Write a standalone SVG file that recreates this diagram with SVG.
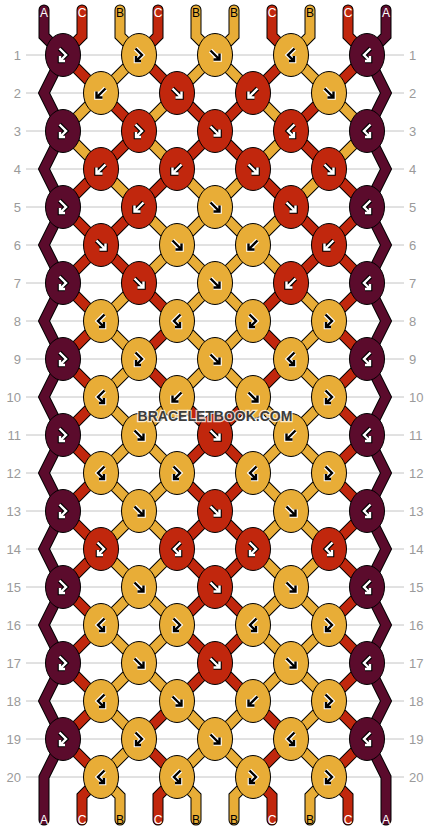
<svg xmlns="http://www.w3.org/2000/svg" xmlns:xlink="http://www.w3.org/1999/xlink" width="430" height="832" viewBox="0 0 430 832">
<style>
.grid line{stroke:#c4c4c4;stroke-width:1}
.lbl text{font-family:"Liberation Sans",Arial,sans-serif;font-size:13px;fill:#9a9a9a}
.lbl .l{text-anchor:end}
.so{fill:none;stroke:#000;stroke-width:11;stroke-linejoin:miter;stroke-linecap:round}
.si{fill:none;stroke-width:9;stroke-linejoin:miter;stroke-linecap:round}
.cA{stroke:#5b0b2c}.cB{stroke:#e8ad37}.cC{stroke:#c1270d}
.ends text{font-family:"Liberation Sans",Arial,sans-serif;font-size:12px;text-anchor:middle}
.tw{fill:#fff}.tk{fill:#000}
ellipse{stroke:#000;stroke-width:1}
.kd{fill:#5b0b2c}.kr{fill:#c1270d}.ky{fill:#e8ad37}
.ob{fill:none;stroke:#000;stroke-width:4.6}
.ow{fill:none;stroke:#fff;stroke-width:4.6}
.iw{fill:none;stroke:#fff;stroke-width:2.4}
.ik{fill:none;stroke:#000;stroke-width:2.4}
.wm{font-family:"Liberation Sans",Arial,sans-serif;font-size:14px;font-weight:bold;fill:#3c3c3c;stroke:#ffffff;stroke-opacity:0.75;stroke-width:2.5;paint-order:stroke;text-anchor:middle}
</style>
<defs>
<path id="pf" d="M-4.5,-4.5 L4.5,4.5 M4.5,-1.5 L4.5,4.5 L-1.5,4.5"/>
<path id="pb" d="M4.5,-4.5 L-4.5,4.5 M-4.5,-1.5 L-4.5,4.5 L1.5,4.5"/>
<path id="pfb" d="M-3.5,-6.5 L3,0 L-3,6 M-3,1 L-3,6 L2,6"/>
<path id="pbf" d="M3.5,-6.5 L-3,0 L3,6 M3,1 L3,6 L-2,6"/>
<g id="fW"><use href="#pf" class="ob"/><use href="#pf" class="iw"/></g>
<g id="fK"><use href="#pf" class="ow"/><use href="#pf" class="ik"/></g>
<g id="bW"><use href="#pb" class="ob"/><use href="#pb" class="iw"/></g>
<g id="bK"><use href="#pb" class="ow"/><use href="#pb" class="ik"/></g>
<g id="fbW"><use href="#pfb" class="ob"/><use href="#pfb" class="iw"/></g>
<g id="fbK"><use href="#pfb" class="ow"/><use href="#pfb" class="ik"/></g>
<g id="bfW"><use href="#pbf" class="ob"/><use href="#pbf" class="iw"/></g>
<g id="bfK"><use href="#pbf" class="ow"/><use href="#pbf" class="ik"/></g>
</defs>
<rect width="430" height="832" fill="#fff"/>
<g id="grid" class="grid">
<line x1="26" y1="55" x2="404" y2="55"/><line x1="26" y1="93" x2="404" y2="93"/><line x1="26" y1="131" x2="404" y2="131"/><line x1="26" y1="169" x2="404" y2="169"/><line x1="26" y1="207" x2="404" y2="207"/><line x1="26" y1="245" x2="404" y2="245"/><line x1="26" y1="283" x2="404" y2="283"/><line x1="26" y1="321" x2="404" y2="321"/><line x1="26" y1="359" x2="404" y2="359"/><line x1="26" y1="397" x2="404" y2="397"/><line x1="26" y1="435" x2="404" y2="435"/><line x1="26" y1="473" x2="404" y2="473"/><line x1="26" y1="511" x2="404" y2="511"/><line x1="26" y1="549" x2="404" y2="549"/><line x1="26" y1="587" x2="404" y2="587"/><line x1="26" y1="625" x2="404" y2="625"/><line x1="26" y1="663" x2="404" y2="663"/><line x1="26" y1="701" x2="404" y2="701"/><line x1="26" y1="739" x2="404" y2="739"/><line x1="26" y1="777" x2="404" y2="777"/>
</g>
<g id="rowlabels" class="lbl">
<text class="l" x="21" y="59.5">1</text><text class="l" x="21" y="97.5">2</text><text class="l" x="21" y="135.5">3</text><text class="l" x="21" y="173.5">4</text><text class="l" x="21" y="211.5">5</text><text class="l" x="21" y="249.5">6</text><text class="l" x="21" y="287.5">7</text><text class="l" x="21" y="325.5">8</text><text class="l" x="21" y="363.5">9</text><text class="l" x="21" y="401.5">10</text><text class="l" x="21" y="439.5">11</text><text class="l" x="21" y="477.5">12</text><text class="l" x="21" y="515.5">13</text><text class="l" x="21" y="553.5">14</text><text class="l" x="21" y="591.5">15</text><text class="l" x="21" y="629.5">16</text><text class="l" x="21" y="667.5">17</text><text class="l" x="21" y="705.5">18</text><text class="l" x="21" y="743.5">19</text><text class="l" x="21" y="781.5">20</text>
<text x="409" y="59.5">1</text><text x="409" y="97.5">2</text><text x="409" y="135.5">3</text><text x="409" y="173.5">4</text><text x="409" y="211.5">5</text><text x="409" y="249.5">6</text><text x="409" y="287.5">7</text><text x="409" y="325.5">8</text><text x="409" y="363.5">9</text><text x="409" y="401.5">10</text><text x="409" y="439.5">11</text><text x="409" y="477.5">12</text><text x="409" y="515.5">13</text><text x="409" y="553.5">14</text><text x="409" y="591.5">15</text><text x="409" y="629.5">16</text><text x="409" y="667.5">17</text><text x="409" y="705.5">18</text><text x="409" y="743.5">19</text><text x="409" y="781.5">20</text>
</g>
<g id="connectors">
<g class="so">
<path id="o0" d="M44,10 L44,36 L63,55 L44,93 L63,131 L44,169 L63,207 L44,245 L63,283 L44,321 L63,359 L44,397 L63,435 L44,473 L63,511 L44,549 L63,587 L44,625 L63,663 L44,701 L63,739 L44,777 L44,820"/>
<path id="o9" d="M386,10 L386,36 L367,55 L386,93 L367,131 L386,169 L367,207 L386,245 L367,283 L386,321 L367,359 L386,397 L367,435 L386,473 L367,511 L386,549 L367,587 L386,625 L367,663 L386,701 L367,739 L386,777 L386,820"/>
<path id="o1" d="M82,10 L82,36 L63,55 L101,93 L139,131 L101,169 L63,207 L101,245 L139,283 L177,321 L139,359 L177,397 L215,435 L253,473 L215,511 L177,549 L215,587 L253,625 L215,663 L177,701 L139,739 L177,777 L158,796 L158,820"/>
<path id="o2" d="M120,10 L120,36 L139,55 L101,93 L63,131 L101,169 L139,207 L177,245 L215,283 L253,321 L215,359 L177,397 L139,435 L101,473 L139,511 L177,549 L139,587 L101,625 L139,663 L177,701 L215,739 L253,777 L234,796 L234,820"/>
<path id="o3" d="M158,10 L158,36 L139,55 L177,93 L215,131 L253,169 L291,207 L329,245 L367,283 L329,321 L367,359 L329,397 L367,435 L329,473 L367,511 L329,549 L367,587 L329,625 L367,663 L329,701 L367,739 L329,777 L348,796 L348,820"/>
<path id="o4" d="M196,10 L196,36 L215,55 L253,93 L291,131 L253,169 L215,207 L177,245 L139,283 L101,321 L139,359 L101,397 L139,435 L177,473 L139,511 L101,549 L139,587 L177,625 L139,663 L101,701 L139,739 L101,777 L120,796 L120,820"/>
<path id="o5" d="M234,10 L234,36 L215,55 L177,93 L139,131 L177,169 L215,207 L253,245 L291,283 L329,321 L291,359 L329,397 L291,435 L253,473 L291,511 L329,549 L291,587 L253,625 L291,663 L329,701 L291,739 L329,777 L310,796 L310,820"/>
<path id="o6" d="M272,10 L272,36 L291,55 L253,93 L215,131 L177,169 L139,207 L101,245 L63,283 L101,321 L63,359 L101,397 L63,435 L101,473 L63,511 L101,549 L63,587 L101,625 L63,663 L101,701 L63,739 L101,777 L82,796 L82,820"/>
<path id="o7" d="M310,10 L310,36 L291,55 L329,93 L367,131 L329,169 L291,207 L253,245 L215,283 L177,321 L215,359 L253,397 L291,435 L329,473 L291,511 L253,549 L291,587 L329,625 L291,663 L253,701 L215,739 L177,777 L196,796 L196,820"/>
<path id="o8" d="M348,10 L348,36 L367,55 L329,93 L291,131 L329,169 L367,207 L329,245 L291,283 L253,321 L291,359 L253,397 L215,435 L177,473 L215,511 L253,549 L215,587 L177,625 L215,663 L253,701 L291,739 L253,777 L272,796 L272,820"/>
</g>
<use href="#o0" class="si cA"/><use href="#o9" class="si cA"/>
<use href="#o1" class="si cC"/><use href="#o3" class="si cC"/><use href="#o6" class="si cC"/><use href="#o8" class="si cC"/>
<use href="#o2" class="si cB"/><use href="#o4" class="si cB"/><use href="#o5" class="si cB"/><use href="#o7" class="si cB"/>
</g>
<g id="ends" class="ends">
<text class="tw" x="44" y="17">A</text><text class="tw" x="82" y="17">C</text><text class="tk" x="120" y="17">B</text><text class="tw" x="158" y="17">C</text><text class="tk" x="196" y="17">B</text><text class="tk" x="234" y="17">B</text><text class="tw" x="272" y="17">C</text><text class="tk" x="310" y="17">B</text><text class="tw" x="348" y="17">C</text><text class="tw" x="386" y="17">A</text>
<text class="tw" x="44" y="824">A</text><text class="tw" x="82" y="824">C</text><text class="tk" x="120" y="824">B</text><text class="tw" x="158" y="824">C</text><text class="tk" x="196" y="824">B</text><text class="tk" x="234" y="824">B</text><text class="tw" x="272" y="824">C</text><text class="tk" x="310" y="824">B</text><text class="tw" x="348" y="824">C</text><text class="tw" x="386" y="824">A</text>
</g>
<g id="knots">
<g id="k1_1" transform="translate(63,55)"><ellipse class="kd" rx="17.5" ry="21.5"/><use href="#fbW"/></g>
<g id="k1_2" transform="translate(139,55)"><ellipse class="ky" rx="17.5" ry="21.5"/><use href="#fbK"/></g>
<g id="k1_3" transform="translate(215,55)"><ellipse class="ky" rx="17.5" ry="21.5"/><use href="#fK"/></g>
<g id="k1_4" transform="translate(291,55)"><ellipse class="ky" rx="17.5" ry="21.5"/><use href="#bfK"/></g>
<g id="k1_5" transform="translate(367,55)"><ellipse class="kd" rx="17.5" ry="21.5"/><use href="#bfW"/></g>
<g id="k2_1" transform="translate(101,93)"><ellipse class="ky" rx="17.5" ry="21.5"/><use href="#bK"/></g>
<g id="k2_2" transform="translate(177,93)"><ellipse class="kr" rx="17.5" ry="21.5"/><use href="#fW"/></g>
<g id="k2_3" transform="translate(253,93)"><ellipse class="kr" rx="17.5" ry="21.5"/><use href="#bW"/></g>
<g id="k2_4" transform="translate(329,93)"><ellipse class="ky" rx="17.5" ry="21.5"/><use href="#fK"/></g>
<g id="k3_1" transform="translate(63,131)"><ellipse class="kd" rx="17.5" ry="21.5"/><use href="#fbW"/></g>
<g id="k3_2" transform="translate(139,131)"><ellipse class="kr" rx="17.5" ry="21.5"/><use href="#fbW"/></g>
<g id="k3_3" transform="translate(215,131)"><ellipse class="kr" rx="17.5" ry="21.5"/><use href="#fW"/></g>
<g id="k3_4" transform="translate(291,131)"><ellipse class="kr" rx="17.5" ry="21.5"/><use href="#bfW"/></g>
<g id="k3_5" transform="translate(367,131)"><ellipse class="kd" rx="17.5" ry="21.5"/><use href="#bfW"/></g>
<g id="k4_1" transform="translate(101,169)"><ellipse class="kr" rx="17.5" ry="21.5"/><use href="#bW"/></g>
<g id="k4_2" transform="translate(177,169)"><ellipse class="kr" rx="17.5" ry="21.5"/><use href="#bW"/></g>
<g id="k4_3" transform="translate(253,169)"><ellipse class="kr" rx="17.5" ry="21.5"/><use href="#fW"/></g>
<g id="k4_4" transform="translate(329,169)"><ellipse class="kr" rx="17.5" ry="21.5"/><use href="#fW"/></g>
<g id="k5_1" transform="translate(63,207)"><ellipse class="kd" rx="17.5" ry="21.5"/><use href="#fbW"/></g>
<g id="k5_2" transform="translate(139,207)"><ellipse class="kr" rx="17.5" ry="21.5"/><use href="#bW"/></g>
<g id="k5_3" transform="translate(215,207)"><ellipse class="ky" rx="17.5" ry="21.5"/><use href="#fK"/></g>
<g id="k5_4" transform="translate(291,207)"><ellipse class="kr" rx="17.5" ry="21.5"/><use href="#fW"/></g>
<g id="k5_5" transform="translate(367,207)"><ellipse class="kd" rx="17.5" ry="21.5"/><use href="#bfW"/></g>
<g id="k6_1" transform="translate(101,245)"><ellipse class="kr" rx="17.5" ry="21.5"/><use href="#fW"/></g>
<g id="k6_2" transform="translate(177,245)"><ellipse class="ky" rx="17.5" ry="21.5"/><use href="#fK"/></g>
<g id="k6_3" transform="translate(253,245)"><ellipse class="ky" rx="17.5" ry="21.5"/><use href="#bK"/></g>
<g id="k6_4" transform="translate(329,245)"><ellipse class="kr" rx="17.5" ry="21.5"/><use href="#bW"/></g>
<g id="k7_1" transform="translate(63,283)"><ellipse class="kd" rx="17.5" ry="21.5"/><use href="#fbW"/></g>
<g id="k7_2" transform="translate(139,283)"><ellipse class="kr" rx="17.5" ry="21.5"/><use href="#fW"/></g>
<g id="k7_3" transform="translate(215,283)"><ellipse class="ky" rx="17.5" ry="21.5"/><use href="#fK"/></g>
<g id="k7_4" transform="translate(291,283)"><ellipse class="kr" rx="17.5" ry="21.5"/><use href="#bW"/></g>
<g id="k7_5" transform="translate(367,283)"><ellipse class="kd" rx="17.5" ry="21.5"/><use href="#bfW"/></g>
<g id="k8_1" transform="translate(101,321)"><ellipse class="ky" rx="17.5" ry="21.5"/><use href="#bfK"/></g>
<g id="k8_2" transform="translate(177,321)"><ellipse class="ky" rx="17.5" ry="21.5"/><use href="#bfK"/></g>
<g id="k8_3" transform="translate(253,321)"><ellipse class="ky" rx="17.5" ry="21.5"/><use href="#fbK"/></g>
<g id="k8_4" transform="translate(329,321)"><ellipse class="ky" rx="17.5" ry="21.5"/><use href="#fbK"/></g>
<g id="k9_1" transform="translate(63,359)"><ellipse class="kd" rx="17.5" ry="21.5"/><use href="#fbW"/></g>
<g id="k9_2" transform="translate(139,359)"><ellipse class="ky" rx="17.5" ry="21.5"/><use href="#fbK"/></g>
<g id="k9_3" transform="translate(215,359)"><ellipse class="ky" rx="17.5" ry="21.5"/><use href="#fK"/></g>
<g id="k9_4" transform="translate(291,359)"><ellipse class="ky" rx="17.5" ry="21.5"/><use href="#bfK"/></g>
<g id="k9_5" transform="translate(367,359)"><ellipse class="kd" rx="17.5" ry="21.5"/><use href="#bfW"/></g>
<g id="k10_1" transform="translate(101,397)"><ellipse class="ky" rx="17.5" ry="21.5"/><use href="#bfK"/></g>
<g id="k10_2" transform="translate(177,397)"><ellipse class="ky" rx="17.5" ry="21.5"/><use href="#bK"/></g>
<g id="k10_3" transform="translate(253,397)"><ellipse class="ky" rx="17.5" ry="21.5"/><use href="#fK"/></g>
<g id="k10_4" transform="translate(329,397)"><ellipse class="ky" rx="17.5" ry="21.5"/><use href="#fbK"/></g>
<g id="k11_1" transform="translate(63,435)"><ellipse class="kd" rx="17.5" ry="21.5"/><use href="#fbW"/></g>
<g id="k11_2" transform="translate(139,435)"><ellipse class="ky" rx="17.5" ry="21.5"/><use href="#fK"/></g>
<g id="k11_3" transform="translate(215,435)"><ellipse class="kr" rx="17.5" ry="21.5"/><use href="#fW"/></g>
<g id="k11_4" transform="translate(291,435)"><ellipse class="ky" rx="17.5" ry="21.5"/><use href="#bK"/></g>
<g id="k11_5" transform="translate(367,435)"><ellipse class="kd" rx="17.5" ry="21.5"/><use href="#bfW"/></g>
<g id="k12_1" transform="translate(101,473)"><ellipse class="ky" rx="17.5" ry="21.5"/><use href="#bfK"/></g>
<g id="k12_2" transform="translate(177,473)"><ellipse class="ky" rx="17.5" ry="21.5"/><use href="#fbK"/></g>
<g id="k12_3" transform="translate(253,473)"><ellipse class="ky" rx="17.5" ry="21.5"/><use href="#bfK"/></g>
<g id="k12_4" transform="translate(329,473)"><ellipse class="ky" rx="17.5" ry="21.5"/><use href="#fbK"/></g>
<g id="k13_1" transform="translate(63,511)"><ellipse class="kd" rx="17.5" ry="21.5"/><use href="#fbW"/></g>
<g id="k13_2" transform="translate(139,511)"><ellipse class="ky" rx="17.5" ry="21.5"/><use href="#fK"/></g>
<g id="k13_3" transform="translate(215,511)"><ellipse class="kr" rx="17.5" ry="21.5"/><use href="#fW"/></g>
<g id="k13_4" transform="translate(291,511)"><ellipse class="ky" rx="17.5" ry="21.5"/><use href="#fK"/></g>
<g id="k13_5" transform="translate(367,511)"><ellipse class="kd" rx="17.5" ry="21.5"/><use href="#bfW"/></g>
<g id="k14_1" transform="translate(101,549)"><ellipse class="kr" rx="17.5" ry="21.5"/><use href="#fbW"/></g>
<g id="k14_2" transform="translate(177,549)"><ellipse class="kr" rx="17.5" ry="21.5"/><use href="#bfW"/></g>
<g id="k14_3" transform="translate(253,549)"><ellipse class="kr" rx="17.5" ry="21.5"/><use href="#fbW"/></g>
<g id="k14_4" transform="translate(329,549)"><ellipse class="kr" rx="17.5" ry="21.5"/><use href="#bfW"/></g>
<g id="k15_1" transform="translate(63,587)"><ellipse class="kd" rx="17.5" ry="21.5"/><use href="#fbW"/></g>
<g id="k15_2" transform="translate(139,587)"><ellipse class="ky" rx="17.5" ry="21.5"/><use href="#fK"/></g>
<g id="k15_3" transform="translate(215,587)"><ellipse class="kr" rx="17.5" ry="21.5"/><use href="#fW"/></g>
<g id="k15_4" transform="translate(291,587)"><ellipse class="ky" rx="17.5" ry="21.5"/><use href="#fK"/></g>
<g id="k15_5" transform="translate(367,587)"><ellipse class="kd" rx="17.5" ry="21.5"/><use href="#bfW"/></g>
<g id="k16_1" transform="translate(101,625)"><ellipse class="ky" rx="17.5" ry="21.5"/><use href="#bfK"/></g>
<g id="k16_2" transform="translate(177,625)"><ellipse class="ky" rx="17.5" ry="21.5"/><use href="#fbK"/></g>
<g id="k16_3" transform="translate(253,625)"><ellipse class="ky" rx="17.5" ry="21.5"/><use href="#bfK"/></g>
<g id="k16_4" transform="translate(329,625)"><ellipse class="ky" rx="17.5" ry="21.5"/><use href="#fbK"/></g>
<g id="k17_1" transform="translate(63,663)"><ellipse class="kd" rx="17.5" ry="21.5"/><use href="#fbW"/></g>
<g id="k17_2" transform="translate(139,663)"><ellipse class="ky" rx="17.5" ry="21.5"/><use href="#fK"/></g>
<g id="k17_3" transform="translate(215,663)"><ellipse class="kr" rx="17.5" ry="21.5"/><use href="#fW"/></g>
<g id="k17_4" transform="translate(291,663)"><ellipse class="ky" rx="17.5" ry="21.5"/><use href="#fK"/></g>
<g id="k17_5" transform="translate(367,663)"><ellipse class="kd" rx="17.5" ry="21.5"/><use href="#bfW"/></g>
<g id="k18_1" transform="translate(101,701)"><ellipse class="ky" rx="17.5" ry="21.5"/><use href="#bfK"/></g>
<g id="k18_2" transform="translate(177,701)"><ellipse class="ky" rx="17.5" ry="21.5"/><use href="#fK"/></g>
<g id="k18_3" transform="translate(253,701)"><ellipse class="ky" rx="17.5" ry="21.5"/><use href="#bK"/></g>
<g id="k18_4" transform="translate(329,701)"><ellipse class="ky" rx="17.5" ry="21.5"/><use href="#fbK"/></g>
<g id="k19_1" transform="translate(63,739)"><ellipse class="kd" rx="17.5" ry="21.5"/><use href="#fbW"/></g>
<g id="k19_2" transform="translate(139,739)"><ellipse class="ky" rx="17.5" ry="21.5"/><use href="#fbK"/></g>
<g id="k19_3" transform="translate(215,739)"><ellipse class="ky" rx="17.5" ry="21.5"/><use href="#fK"/></g>
<g id="k19_4" transform="translate(291,739)"><ellipse class="ky" rx="17.5" ry="21.5"/><use href="#bfK"/></g>
<g id="k19_5" transform="translate(367,739)"><ellipse class="kd" rx="17.5" ry="21.5"/><use href="#bfW"/></g>
<g id="k20_1" transform="translate(101,777)"><ellipse class="ky" rx="17.5" ry="21.5"/><use href="#bfK"/></g>
<g id="k20_2" transform="translate(177,777)"><ellipse class="ky" rx="17.5" ry="21.5"/><use href="#bfK"/></g>
<g id="k20_3" transform="translate(253,777)"><ellipse class="ky" rx="17.5" ry="21.5"/><use href="#fbK"/></g>
<g id="k20_4" transform="translate(329,777)"><ellipse class="ky" rx="17.5" ry="21.5"/><use href="#fbK"/></g>
</g>
<text class="wm" x="215" y="421">BRACELETBOOK.COM</text>
</svg>
